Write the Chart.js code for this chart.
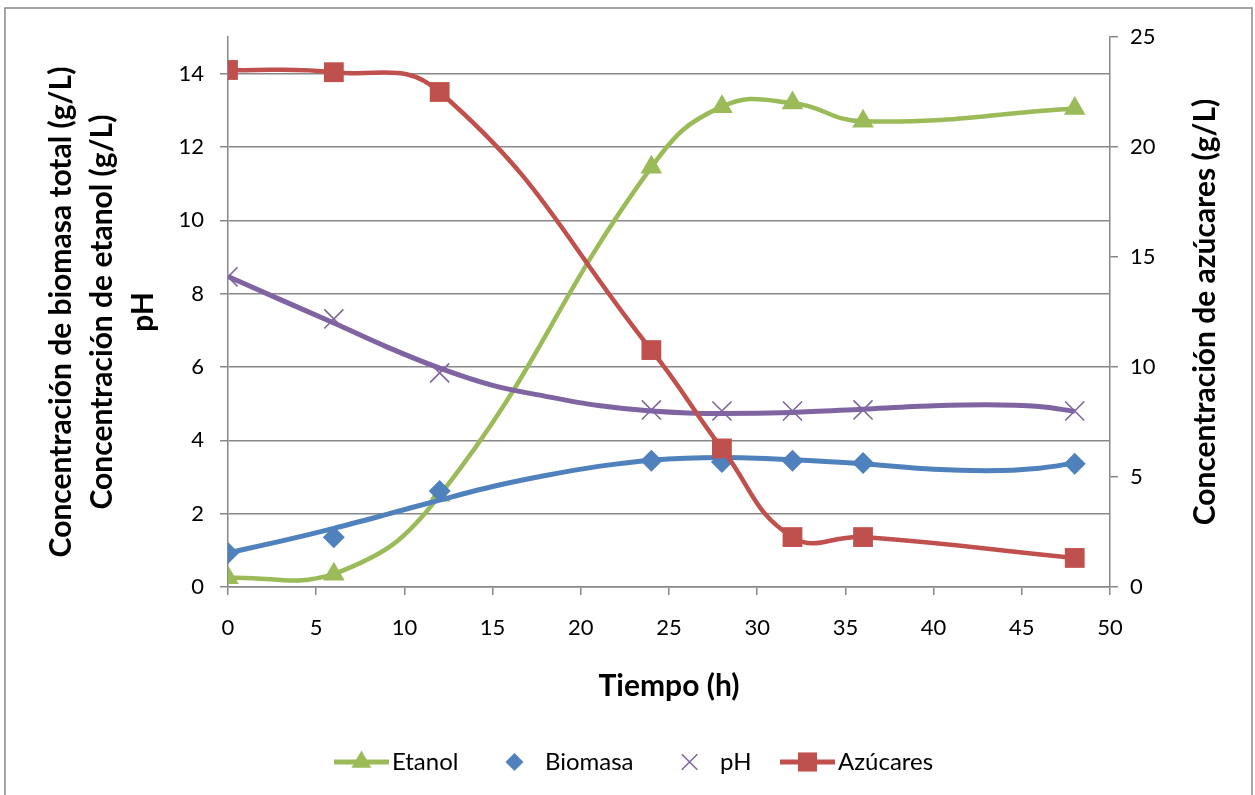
<!DOCTYPE html>
<html lang="es">
<head>
<meta charset="utf-8">
<title>Cinética de fermentación</title>
<script src="https://cdn.jsdelivr.net/npm/chart.js@4.4.1/dist/chart.umd.min.js"></script>
<style>
  html, body { margin: 0; padding: 0; background: #fff; }
  canvas { display: block; }
</style>
</head>
<body>
<canvas id="chart" width="1255" height="795"></canvas>
<script>
// ---------- data ----------
const TIEMPO   = [0, 6, 12, 24, 28, 32, 36, 48];                       // h
const ETANOL   = [0.25, 0.35, 2.5, 11.45, 13.1, 13.2, 12.7, 13.05];    // g/L
const BIOMASA  = [0.93, 1.36, 2.62, 3.44, 3.41, 3.44, 3.38, 3.36];     // g/L
const PH       = [8.46, 7.31, 5.84, 4.83, 4.8, 4.8, 4.83, 4.8];
const AZUCARES = [23.5, 23.4, 22.5, 10.77, 6.3, 2.27, 2.27, 1.32];     // g/L, right axis

// trend curves drawn over biomasa and pH
const TEND_X       = [0, 3, 6, 9, 12, 15, 18, 21, 24, 28, 32, 36, 40, 43, 46, 48];
const TEND_BIOMASA = [0.93, 1.25, 1.6, 1.98, 2.37, 2.74, 3.04, 3.29, 3.46, 3.53, 3.47, 3.36, 3.21, 3.17, 3.24, 3.38];
const TEND_PH      = [8.47, 7.83, 7.2, 6.55, 5.97, 5.5, 5.2, 4.95, 4.8, 4.73, 4.76, 4.85, 4.94, 4.97, 4.92, 4.79];

// axes
const X_MIN = 0, X_MAX = 50, X_STEP = 5;
const Y_MIN = 0, Y_MAX = 15, Y_STEP = 2;
const Y2_MIN = 0, Y2_MAX = 25, Y2_STEP = 5;

const TITULO_X  = 'Tiempo (h)';
const TITULO_Y  = ['Concentración de biomasa total (g/L)', 'Concentración de etanol (g/L)', 'pH'];
const TITULO_Y2 = 'Concentración de azúcares (g/L)';

// ---------- styles ----------
const GREEN  = '#9BBB59';
const BLUE   = '#4F81BD';
const PURPLE = '#8064A2';
const RED    = '#C0504D';
const AXIS   = '#888888';
const FONT   = 'Lato, "Open Sans", sans-serif';

const pts = (xs, ys) => xs.map((x, i) => ({ x, y: ys[i] }));

// small canvas used as legend symbol: optional line + marker
function legendIcon(color, style, radius, withLine, stroke) {
  const c = document.createElement('canvas');
  c.width = 55; c.height = 26;
  const g = c.getContext('2d');
  if (withLine) {
    g.strokeStyle = color;
    g.lineWidth = 5;
    g.beginPath(); g.moveTo(0, 13); g.lineTo(55, 13); g.stroke();
  }
  g.fillStyle = color;
  g.strokeStyle = color;
  g.lineWidth = stroke || 0;
  Chart.helpers.drawPoint(g, { pointStyle: style, radius, rotation: 0, borderWidth: stroke || 0 }, 27.5, 13);
  return c;
}

// white background, outer frame, right axis title (reads bottom to top)
const framePlugin = {
  id: 'frame',
  beforeDraw(chart) {
    const ctx = chart.ctx;
    ctx.save();
    ctx.fillStyle = '#fff';
    ctx.fillRect(0, 0, chart.width, chart.height);
    ctx.strokeStyle = AXIS;
    ctx.lineWidth = 1.5;
    ctx.strokeRect(5, 8, 1247, 800);
    ctx.restore();
  },
  afterDraw(chart) {
    const ctx = chart.ctx;
    const area = chart.chartArea;
    ctx.save();
    ctx.translate(1205, (area.top + area.bottom) / 2);
    ctx.rotate(-Math.PI / 2);
    ctx.font = 'bold 30px ' + FONT;
    ctx.fillStyle = '#000';
    ctx.textAlign = 'center';
    ctx.textBaseline = 'middle';
    ctx.fillText(TITULO_Y2, 0, 0);
    ctx.restore();
  }
};

const datasets = [
  {
    label: 'Azúcares', yAxisID: 'y2',
    data: pts(TIEMPO, AZUCARES),
    borderColor: RED, backgroundColor: RED, borderWidth: 4.5,
    pointStyle: 'rect', pointRadius: 14, pointBorderWidth: 0,
    tension: 0.45,
    legendIcon: legendIcon(RED, 'rect', 13.5, true)
  },
  {
    label: 'Biomasa', yAxisID: 'y',
    data: pts(TIEMPO, BIOMASA), showLine: false,
    borderColor: BLUE, backgroundColor: BLUE,
    pointStyle: 'rectRot', pointRadius: 11, pointBorderWidth: 0,
    legendIcon: legendIcon(BLUE, 'rectRot', 9, false)
  },
  {
    label: 'pH', yAxisID: 'y',
    data: pts(TIEMPO, PH), showLine: false,
    borderColor: PURPLE, backgroundColor: PURPLE,
    pointStyle: 'crossRot', pointRadius: 13.5, pointBorderWidth: 1.6,
    legendIcon: legendIcon(PURPLE, 'crossRot', 11, false, 1.6)
  },
  {
    label: 'tendencia biomasa', yAxisID: 'y',
    data: pts(TEND_X, TEND_BIOMASA),
    borderColor: BLUE, borderWidth: 5, pointRadius: 0,
    cubicInterpolationMode: 'monotone'
  },
  {
    label: 'tendencia pH', yAxisID: 'y',
    data: pts(TEND_X, TEND_PH),
    borderColor: PURPLE, borderWidth: 5, pointRadius: 0,
    cubicInterpolationMode: 'monotone'
  },
  {
    label: 'Etanol', yAxisID: 'y',
    data: pts(TIEMPO, ETANOL),
    borderColor: GREEN, backgroundColor: GREEN, borderWidth: 4.5,
    pointStyle: 'triangle', pointRadius: 12.5, pointBorderWidth: 0,
    tension: 0.45,
    legendIcon: legendIcon(GREEN, 'triangle', 11.5, true)
  }
];

const LEGEND_ORDER = ['Etanol', 'Biomasa', 'pH', 'Azúcares'];

const axisGrid = (onArea) => ({
  drawOnChartArea: onArea,
  drawTicks: true,
  tickLength: 8,
  color: AXIS,
  tickColor: AXIS,
  lineWidth: 1.5
});
const axisBorder = { display: true, color: AXIS, width: 1.5 };
const tickFont = { family: FONT, size: 22 };
const titleFont = { family: FONT, size: 30, weight: 'bold' };

new Chart(document.getElementById('chart'), {
  type: 'line',
  data: { datasets },
  plugins: [framePlugin],
  options: {
    responsive: false,
    animation: false,
    events: [],
    layout: { padding: { left: 38, top: 37, right: 17, bottom: 11 } },
    scales: {
      x: {
        type: 'linear', min: X_MIN, max: X_MAX,
        ticks: { stepSize: X_STEP, color: '#000', font: tickFont, padding: 20, maxRotation: 0 },
        grid: axisGrid(false),
        border: axisBorder,
        title: { display: true, text: TITULO_X, color: '#000', font: titleFont, padding: { top: 0, bottom: 8 } },
        afterFit: (s) => { s.height = 125.5; }
      },
      y: {
        type: 'linear', position: 'left', min: Y_MIN, max: Y_MAX,
        ticks: { stepSize: Y_STEP, color: '#000', font: tickFont, padding: 16 },
        afterBuildTicks: (s) => { s.ticks = s.ticks.filter(t => t.value % Y_STEP === 0); },
        grid: axisGrid(true),
        border: axisBorder,
        title: { display: true, text: TITULO_Y, color: '#000', font: { ...titleFont, lineHeight: 1.36 }, padding: { top: 3, bottom: 0 } },
        afterFit: (s) => { s.width = 190; }
      },
      y2: {
        type: 'linear', position: 'right', min: Y2_MIN, max: Y2_MAX,
        ticks: { stepSize: Y2_STEP, color: '#000', font: tickFont, padding: 12 },
        grid: axisGrid(false),
        border: axisBorder,
        afterFit: (s) => { s.width = 128; }
      }
    },
    plugins: {
      tooltip: { enabled: false },
      legend: {
        position: 'bottom',
        labels: {
          usePointStyle: true,
          pointStyleWidth: 37,
          padding: 37.5,
          color: '#000',
          font: { family: FONT, size: 24 },
          generateLabels: (chart) => LEGEND_ORDER.map(name => {
            const i = chart.data.datasets.findIndex(d => d.label === name);
            const ds = chart.data.datasets[i];
            return {
              text: ds.label, datasetIndex: i, hidden: false,
              pointStyle: ds.legendIcon, lineWidth: 0,
              fillStyle: ds.borderColor, strokeStyle: ds.borderColor, fontColor: '#000'
            };
          })
        }
      }
    }
  }
});
</script>
</body>
</html>
